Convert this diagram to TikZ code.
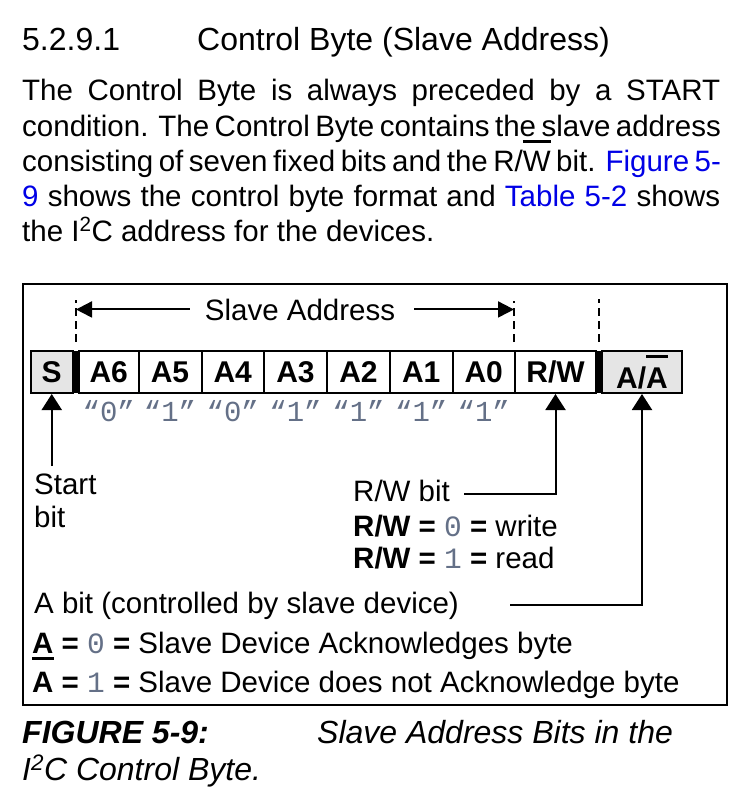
\documentclass[tikz,border=0pt]{standalone}
\usepackage{fontspec}
\setmainfont{Liberation Sans}
\newfontfamily\codefont{Liberation Mono}
\usetikzlibrary{arrows.meta}

\definecolor{linkblue}{RGB}{0,0,230}
\definecolor{codegray}{RGB}{100,112,135}
\definecolor{cellgray}{RGB}{229,229,229}

\newcommand{\jline}[1]{\makebox[698pt][s]{#1}}
\newcommand{\ulbar}[1]{\setbox0\hbox{#1}\rlap{\rule[-7pt]{\wd0}{3pt}}\box0\relax}
\newcommand{\olbar}[2][9pt]{\setbox0\hbox{#2}\rlap{\rule[\dimexpr\ht0+#1\relax]{\wd0}{3pt}}\box0\relax}
\newcommand{\rwtext}{R/W}
\newcommand{\aatext}{A/\olbar{A}}
\newcommand{\bitnum}[1]{{\codefont\color{codegray}#1}}

\tikzstyle{heading} = [font=\fontsize{32}{38}\selectfont, anchor=base west, inner sep=0pt]
\tikzstyle{para} = [font=\fontsize{29.5}{35}\selectfont, anchor=base west, inner sep=0pt]
\tikzstyle{note} = [font=\fontsize{29.5}{33}\selectfont, anchor=base west, inner sep=0pt]
\tikzstyle{caption} = [font=\fontsize{32}{38}\selectfont\itshape, anchor=base west, inner sep=0pt]
\tikzstyle{cell} = [draw, line width=2pt, minimum height=42pt, inner sep=0pt, font=\fontsize{30}{32}\selectfont\bfseries]
\tikzstyle{sepbar} = [fill=black, minimum width=6pt, minimum height=42pt, inner sep=0pt]
\tikzstyle{bitval} = [font=\fontsize{29}{32}\selectfont\codefont, text=codegray, anchor=base, inner sep=0pt]
\tikzstyle{uparrow} = [-{Triangle[length=16pt,width=20pt]}, line width=2pt]
\tikzstyle{spanarrow} = [-{Triangle[length=16pt,width=16pt]}, line width=2pt]
\tikzstyle{guide} = [line width=2pt, dash pattern=on 8pt off 5pt]

\begin{document}
\begin{tikzpicture}[x=1pt, y=-1pt]
    \fill[white] (0,0) rectangle (745,801);
    \useasboundingbox (0,0) rectangle (745,801);

    %% heading and text
    \node[heading] (secnum) at (22,50) {5.2.9.1};
    \node[heading] (sectitle) at (197,50) {Control Byte (Slave Address)};
    \node[para] (line1) at (22,100) {\jline{The Control Byte is always preceded by a START}};
    \node[para] (line2) at (22,136) {\jline{condition. The Control Byte contains the slave address}};
    \node[para] (line3) at (22,171) {\jline{consisting of seven fixed bits and the R/\olbar[8pt]{W} bit. \textcolor{linkblue}{Figure 5-}}};
    \node[para] (line4) at (22,206) {\jline{\textcolor{linkblue}{9} shows the control byte format and \textcolor{linkblue}{Table 5-2} shows}};
    \node[para] (line5) at (22,241) {the I\textsuperscript{2}C address for the devices.};

    %% frame
    \draw[line width=2.5pt] (23,284) rectangle (727,705);

    %% bit cells
    \foreach \name/\lbl/\cx/\w/\shade in {
      s/S/51.75/42.5/cellgray,
      a6/A6/108.75/59.5/white,
      a5/A5/170/63/white,
      a4/A4/232.75/62.5/white,
      a3/A3/295.5/63/white,
      a2/A2/358.5/63/white,
      a1/A1/421.25/62.5/white,
      a0/A0/483.75/62.5/white,
      rw/\rwtext/555.5/81/white,
      aa/\aatext/642/80/cellgray}
    {
      \node[cell, fill=\shade, minimum width=\w pt] (\name) at (\cx,372) {\lbl};
    }
    \node[sepbar] (bar1) at (76,372) {};
    \node[sepbar] (bar2) at (599,372) {};

    %% fixed address values
    \foreach \name/\val in {a6/0, a5/1, a4/0, a3/1, a2/1, a1/1, a0/1}
    {
      \path (\name.south) ++(0,27) node[bitval] {“\val”};
    }

    %% slave address span
    \draw[guide] (bar1.north) ++(0,-9) -- ++(0,-42);
    \draw[guide] (rw.north west) ++(0,-8) -- ++(0,-41);
    \draw[guide] (bar2.north) ++(0,-9) -- ++(0,-43);
    \node[note, anchor=base] (span) at (300,320) {Slave Address};
    \draw[spanarrow] ([xshift=-15pt]span.west) -- (span.west -| bar1);
    \draw[spanarrow] ([xshift=19pt]span.east) -- (span.east -| rw.west);

    %% notes
    \node[note] (start) at (34,494) {Start};
    \node[note] (startbit) at (34,527) {bit};
    \draw[uparrow] (s.south) ++(0,72) -- (s.south);

    \node[note] (rwbit) at (353,501) {R/W bit};
    \node[note] (rwzero) at (353,536) {\textbf{R/W =} \bitnum{0} \textbf{=} write};
    \node[note] (rwone) at (353,568) {\textbf{R/W =} \bitnum{1} \textbf{=} read};
    \coordinate (rwfoot) at (464,494);
    \draw[uparrow] (rwfoot) -| (rw.south);

    \node[note] (abit) at (34,613) {A bit (controlled by slave device)};
    \node[note] (ackzero) at (32,653) {\textbf{\ulbar{A} =} \bitnum{0} \textbf{=} Slave Device Acknowledges byte};
    \node[note] (ackone) at (32,692) {\textbf{A =} \bitnum{1} \textbf{=} Slave Device does not Acknowledge byte};
    \coordinate (afoot) at (510,605);
    \draw[uparrow] (afoot) -| (aa.south);

    %% caption
    \node[caption] (capnum) at (22,743) {\bfseries FIGURE 5-9:};
    \node[caption] (captext) at (317,743) {Slave Address Bits in the};
    \node[caption] (captext2) at (22,780) {I\textsuperscript{2}C Control Byte.};
\end{tikzpicture}
\end{document}
